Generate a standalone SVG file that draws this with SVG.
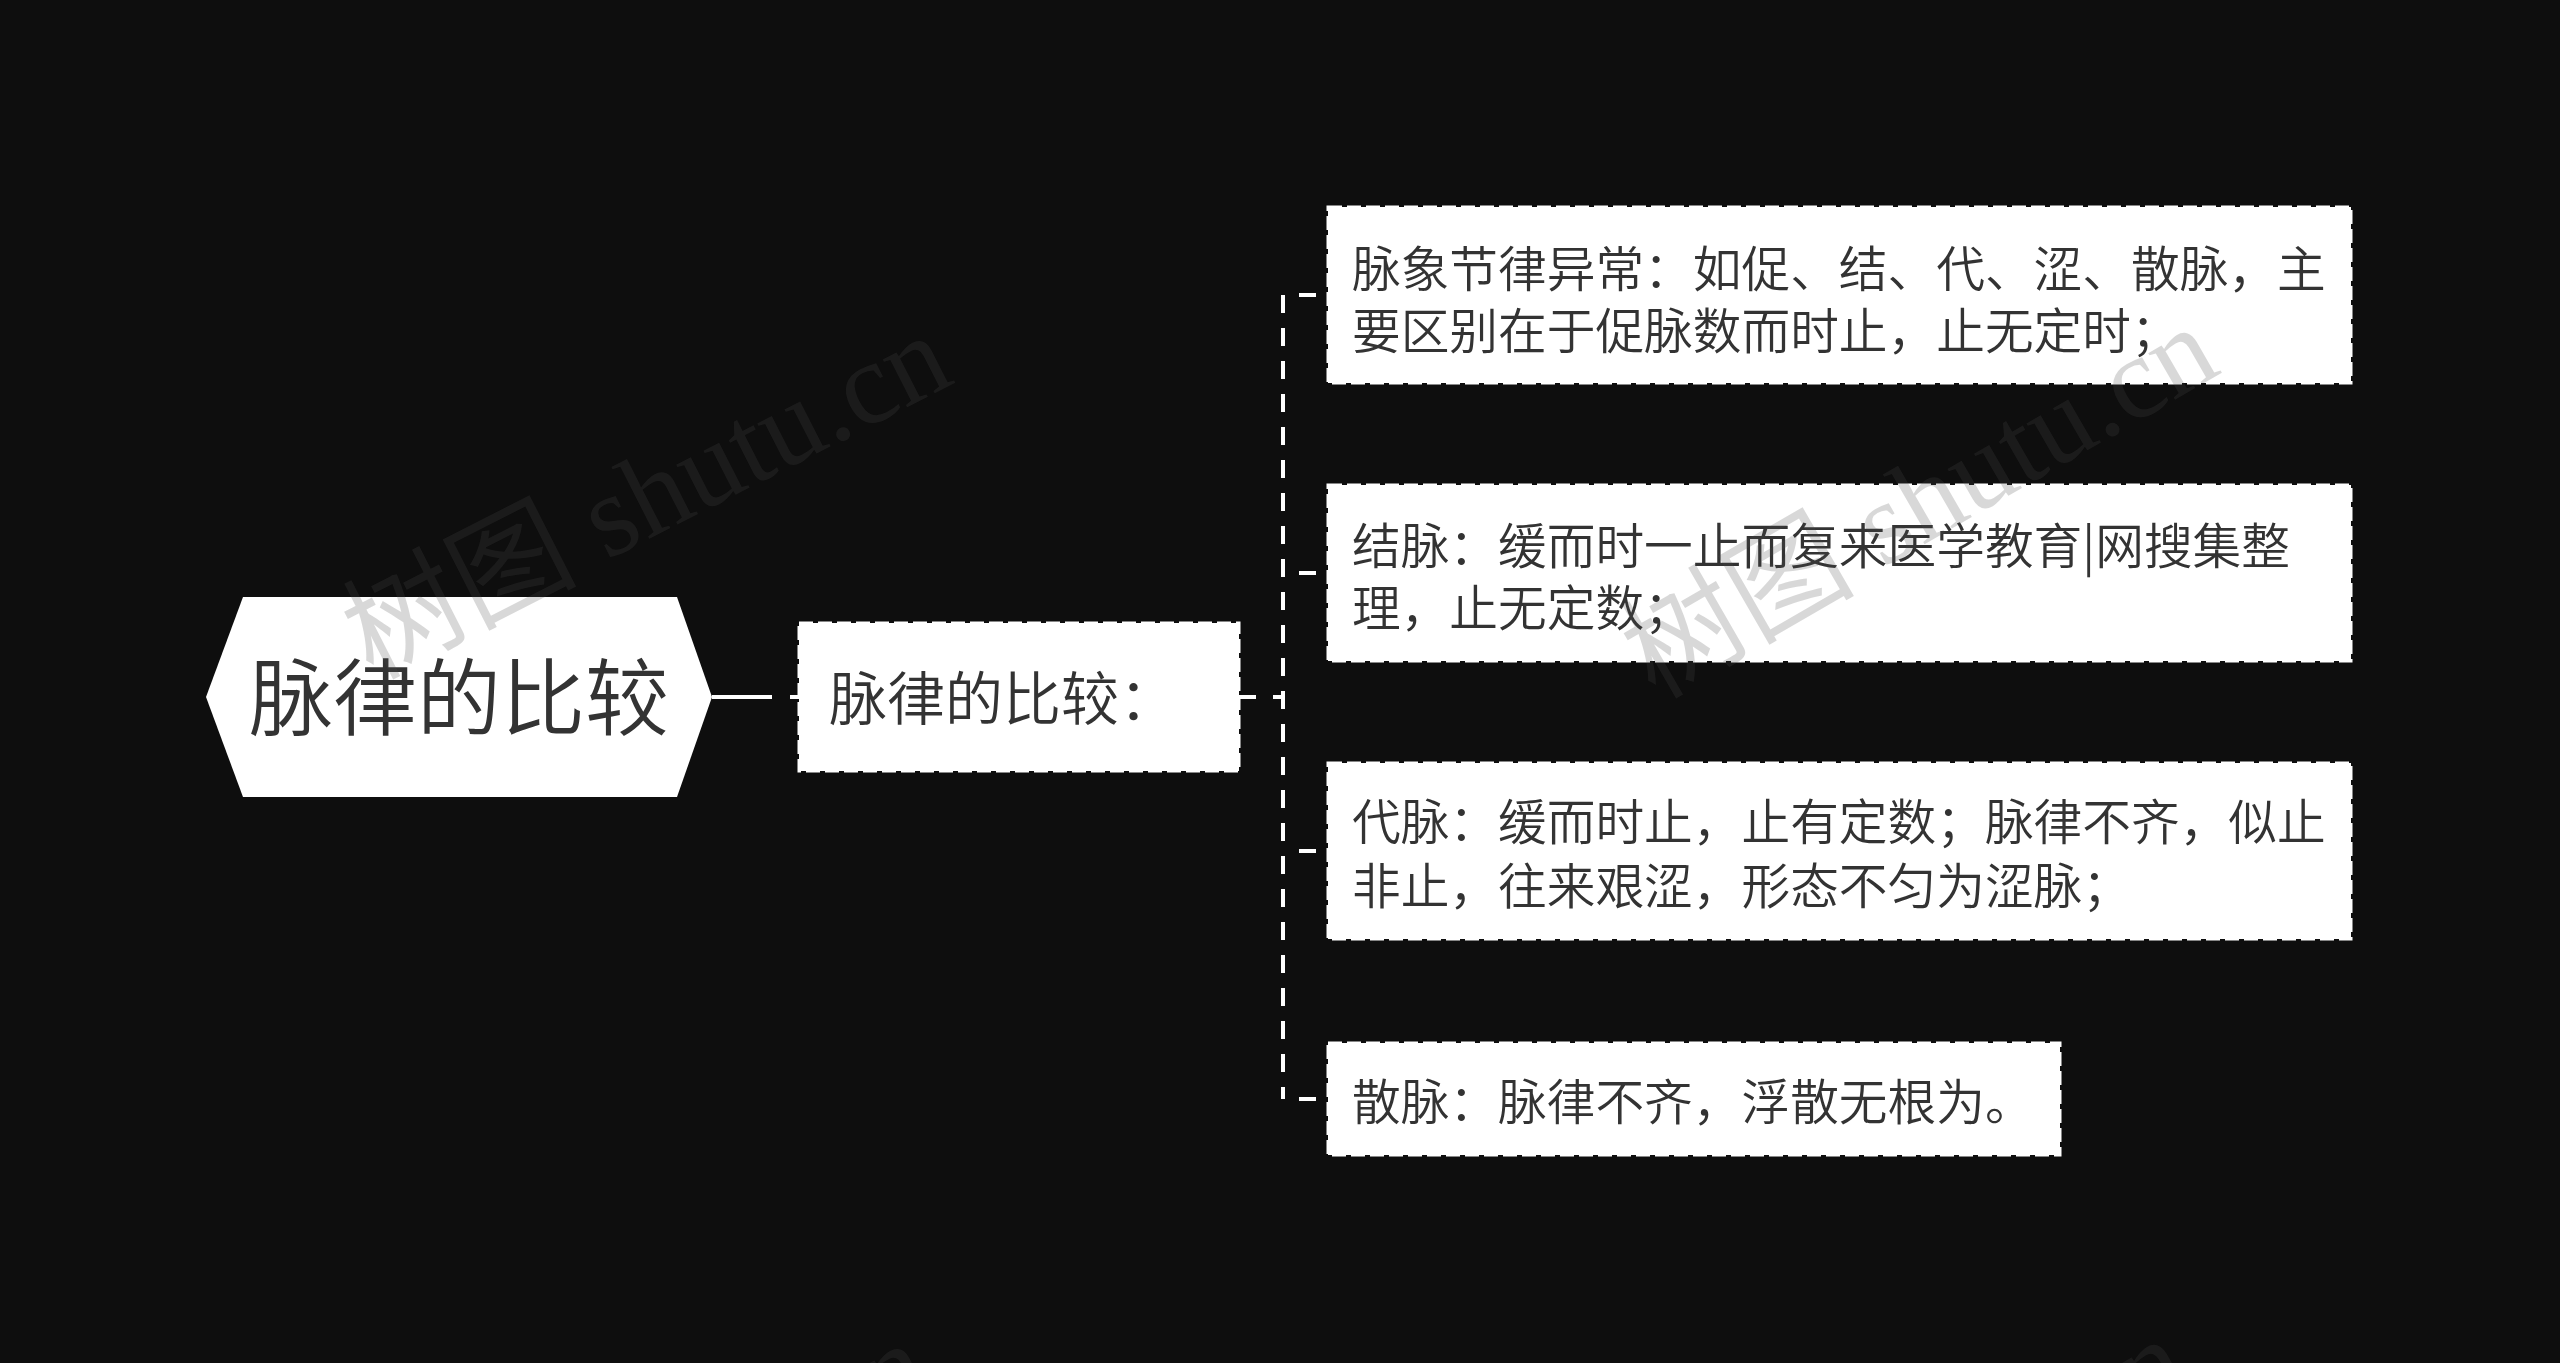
<svg xmlns="http://www.w3.org/2000/svg" width="2560" height="1363" viewBox="0 0 2560 1363">
<style>
.bg{fill:#0e0e0e}
.box{fill:#ffffff;stroke:#ffffff;stroke-width:3;stroke-dasharray:14 5}
.t{font-family:"Noto Sans CJK SC","Noto Sans",sans-serif;font-weight:350;fill:#333333}
.bt{font-size:48.7px}
.conn{stroke:#ffffff;stroke-width:4;fill:none}
.dash{stroke-dasharray:18 15}
.wm{font-family:"Liberation Serif","Noto Sans CJK SC",serif;font-size:117px;fill:#4e4e4e;fill-opacity:0.22}
</style>
<rect class="bg" x="0" y="0" width="2560" height="1363"/>
<g id="connectors">
<line class="conn" x1="712" y1="697" x2="772" y2="697"/>
<line class="conn" x1="790" y1="697" x2="799" y2="697"/>
<line class="conn" x1="1239" y1="697" x2="1256" y2="697"/>
<line class="conn" x1="1273" y1="697" x2="1283" y2="697"/>
<line class="conn dash" x1="1283" y1="295" x2="1283" y2="1099"/>
<line class="conn" x1="1299" y1="295" x2="1316" y2="295"/>
<line class="conn" x1="1299" y1="573" x2="1316" y2="573"/>
<line class="conn" x1="1299" y1="851" x2="1316" y2="851"/>
<line class="conn" x1="1299" y1="1099" x2="1316" y2="1099"/>
</g>
<g id="root">
<polygon points="206,697 243,597 677,597 712,697 677,797 243,797" fill="#ffffff"/>
<text class="t" x="459" y="729" font-size="84" text-anchor="middle">脉律的比较</text>
</g>
<g id="node-main">
<rect class="box" x="799" y="623" width="440" height="148"/>
<text class="t" x="829" y="720" font-size="58">脉律的比较：</text>
</g>
<g id="node-1">
<rect class="box" x="1328" y="207" width="1023" height="176"/>
<text class="t bt" x="1352" y="287">脉象节律异常：如促、结、代、涩、散脉，主</text>
<text class="t bt" x="1352" y="349">要区别在于促脉数而时止，止无定时；</text>
</g>
<g id="node-2">
<rect class="box" x="1328" y="485" width="1023" height="176"/>
<text class="t bt" x="1352" y="564">结脉：缓而时一止而复来医学教育|网搜集整</text>
<text class="t bt" x="1352" y="626">理，止无定数；</text>
</g>
<g id="node-3">
<rect class="box" x="1328" y="763" width="1023" height="176"/>
<text class="t bt" x="1352" y="840">代脉：缓而时止，止有定数；脉律不齐，似止</text>
<text class="t bt" x="1352" y="904">非止，往来艰涩，形态不匀为涩脉；</text>
</g>
<g id="node-4">
<rect class="box" x="1328" y="1043" width="732" height="112"/>
<text class="t bt" x="1352" y="1120">散脉：脉律不齐，浮散无根为。</text>
</g>
<g id="watermarks">
<text class="wm" transform="translate(372,680) rotate(-27)">树图 shutu.cn</text>
<text class="wm" transform="translate(1655,700) rotate(-30)">树图 shutu.cn</text>
<text class="wm" transform="translate(350,1688) rotate(-27)">树图 shutu.cn</text>
<text class="wm" transform="translate(1625,1712) rotate(-30)">树图 shutu.cn</text>
</g>
</svg>
